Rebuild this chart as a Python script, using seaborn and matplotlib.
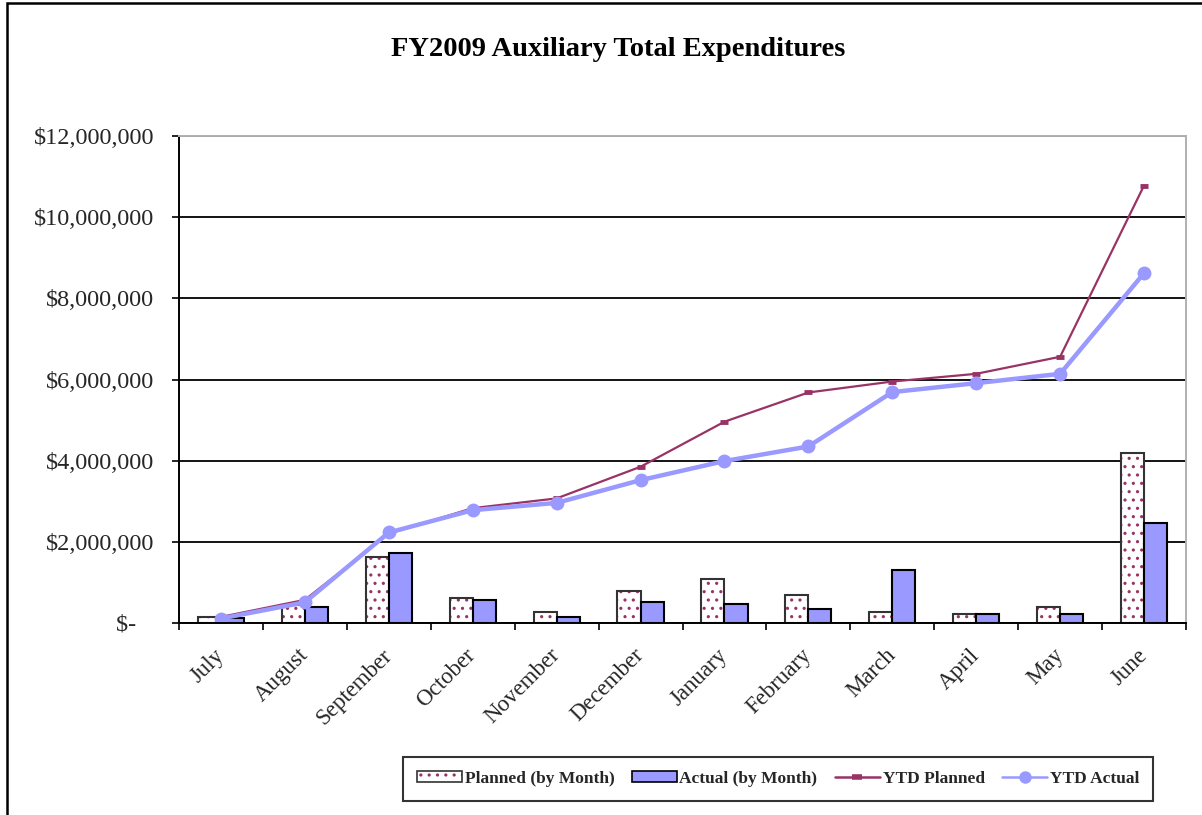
import numpy as np
import pandas as pd
import matplotlib
matplotlib.use("Agg")
import matplotlib.pyplot as plt
import matplotlib.colors as mcolors
from matplotlib.patches import Patch, Rectangle
from matplotlib.lines import Line2D
from matplotlib.ticker import FuncFormatter, MultipleLocator, FixedLocator
import seaborn as sns

# ---- data (values in dollars) ----
months = ["July", "August", "September", "October", "November", "December",
          "January", "February", "March", "April", "May", "June"]
planned_month = [150000, 450000, 1620000, 610000, 260000, 790000,
                 1090000, 700000, 260000, 210000, 390000, 4190000]
actual_month = [120000, 390000, 1720000, 570000, 160000, 520000,
                480000, 350000, 1310000, 210000, 210000, 2460000]
ytd_planned = [150000, 570000, 2200000, 2830000, 3070000, 3850000,
               4960000, 5680000, 5950000, 6140000, 6560000, 10780000]
ytd_actual = [110000, 510000, 2230000, 2780000, 2960000, 3520000,
              3990000, 4350000, 5690000, 5910000, 6140000, 8620000]
series_names = ["Planned (by Month)", "Actual (by Month)", "YTD Planned", "YTD Actual"]
title = "FY2009 Auxiliary Total Expenditures"

PLUM = "#993366"
PERI = "#9999FF"

sns.set_style("white")
plt.rcParams["font.family"] = ["Liberation Serif", "DejaVu Serif"]
plt.rcParams["hatch.linewidth"] = 1.1

fig = plt.figure(figsize=(12.02, 8.15), dpi=100)
ax = fig.add_axes([179 / 1202, 1 - 623 / 815, (1186 - 179) / 1202, (623 - 136) / 815])

df_bars = pd.DataFrame({
    "Month": months * 2,
    "Series": [series_names[0]] * 12 + [series_names[1]] * 12,
    "Value": planned_month + actual_month,
})

sns.barplot(data=df_bars, x="Month", y="Value", hue="Series", order=months,
            hue_order=series_names[:2],
            palette={series_names[0]: "white", series_names[1]: PERI},
            width=0.55, saturation=1, edgecolor="black", linewidth=1.5,
            legend=False, ax=ax)

# dotted pattern on planned bars
for p in ax.containers[0]:
    p.set_hatch("..")
    p.set_edgecolor("#333333")
    p._hatch_color = mcolors.to_rgba(PLUM)

sns.pointplot(x=months, y=ytd_planned, order=months, color=PLUM, markers="_",
              linestyles="-", linewidth=1.6, markersize=6, markeredgewidth=3.5,
              errorbar=None, ax=ax)
sns.pointplot(x=months, y=ytd_actual, order=months, color=PERI, markers="o",
              linestyles="-", linewidth=3.2, markersize=10, markeredgewidth=0,
              errorbar=None, ax=ax)

# axes styling
ax.set_xlim(-0.5, 11.5)
ax.set_ylim(0, 12000000)
ax.yaxis.set_major_locator(MultipleLocator(2000000))
ax.yaxis.set_major_formatter(FuncFormatter(lambda v, pos: "$-   " if v == 0 else f"${v:,.0f}"))
ax.set_xlabel("")
ax.set_ylabel("")
ax.set_axisbelow(True)
ax.yaxis.grid(True, color="black", linewidth=1.3)
ax.xaxis.grid(False)
gl = ax.get_ygridlines()
if len(gl):
    gl[-1].set_visible(False)

for s in ["left", "bottom"]:
    ax.spines[s].set_color("black")
    ax.spines[s].set_linewidth(1.4)
for s in ["top", "right"]:
    ax.spines[s].set_color("#B0B0B0")
    ax.spines[s].set_linewidth(1.4)

ax.tick_params(axis="y", which="major", direction="out", length=5, width=1.2,
               color="black", left=True, labelsize=17.5, pad=13)
ax.xaxis.set_minor_locator(FixedLocator(np.arange(-0.5, 12, 1)))
ax.tick_params(axis="x", which="minor", direction="out", length=5, width=1.2,
               color="black", bottom=True)
ax.tick_params(axis="x", which="major", length=0, labelsize=16.5, pad=21)
for lbl in ax.get_xticklabels():
    lbl.set_rotation(45)
    lbl.set_ha("right")
    lbl.set_va("center")
    lbl.set_rotation_mode("anchor")

# title
fig.text(0.514, 1 - 49 / 815, title, ha="center", va="center",
         fontsize=20.5, fontweight="bold", color="black")

# legend
handles = [
    Patch(facecolor="white", edgecolor="#333333", hatch="..", linewidth=1.2),
    Patch(facecolor=PERI, edgecolor="black", linewidth=1.2),
    Line2D([0], [0], color=PLUM, linewidth=1.8, marker="_", markersize=7, markeredgewidth=4),
    Line2D([0], [0], color=PERI, linewidth=1.8, marker="o", markersize=9, markeredgewidth=0),
]
leg = fig.legend(handles, series_names, loc="center", ncol=4,
                 bbox_to_anchor=(778 / 1202, 1 - 779 / 815),
                 frameon=True, fancybox=False, edgecolor="black",
                 prop={"weight": "bold", "size": 12.5},
                 handlelength=2.6, handleheight=0.6, handletextpad=0.15,
                 columnspacing=1.0, borderpad=0.8, borderaxespad=0)
leg.get_frame().set_linewidth(1.5)
leg.legend_handles[0].set_edgecolor("#333333")
leg.legend_handles[0]._hatch_color = mcolors.to_rgba(PLUM)

# outer chart border (left & top visible)
fig.add_artist(Rectangle((7 / 1202, -0.5), 2.0, 1.5 - 2.5 / 815, transform=fig.transFigure,
                         fill=False, edgecolor="black", linewidth=1.8))

fig.savefig("out.png", dpi=100)
